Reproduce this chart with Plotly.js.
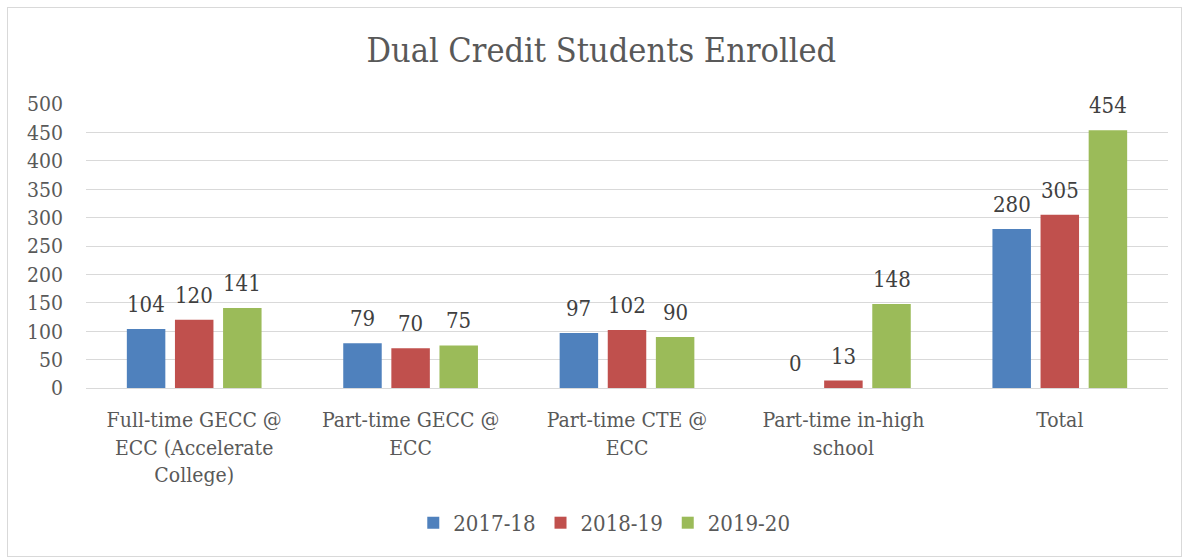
<!DOCTYPE html>
<html><head><meta charset="utf-8">
<script src="https://cdn.plot.ly/plotly-3.0.1.min.js"></script>
<style>
html,body{margin:0;padding:0;background:#fff;}
#wrap{position:relative;width:1186px;height:560px;}
#chart{width:1186px;height:560px;}
#frame{position:absolute;left:7px;top:7px;width:1173px;height:548px;border:1px solid #d9d9d9;pointer-events:none;}
</style></head>
<body><div id="wrap"><div id="chart"></div><div id="frame"></div></div>
<script>
const categories = ["Full-time GECC @<br>ECC (Accelerate<br>College)", "Part-time GECC @<br>ECC", "Part-time CTE @<br>ECC", "Part-time in-high<br>school", "Total"];
const seriesNames = ["2017-18", "2018-19", "2019-20"];
const v2017 = [104, 79, 97, 0, 280];
const v2018 = [120, 70, 102, 13, 305];
const v2019 = [141, 75, 90, 148, 454];
const colors = ["#4f81bd", "#c0504d", "#9bbb59"];
const FONT = "'DejaVu Serif Condensed', 'DejaVu Serif', serif";
const vals = [v2017, v2018, v2019];
const traces = vals.map((v, i) => ({
  type: 'bar', name: seriesNames[i], x: categories, y: v,
  marker: {color: colors[i]}
}));
// data labels as annotations anchored to each bar's value
const annotations = [];
vals.forEach((v, i) => {
  v.forEach((val, j) => {
    annotations.push({
      x: categories[j], y: val, xref: 'x', yref: 'y',
      text: String(val), showarrow: false,
      xanchor: 'center', yanchor: 'bottom',
      xshift: (i - 1) * 48.1, yshift: 10,
      font: {family: FONT, size: 22, color: '#404040'}
    });
  });
});
const layout = {
  width: 1186, height: 560,
  margin: {l: 86, r: 18, t: 104, b: 172},
  paper_bgcolor: '#fff', plot_bgcolor: '#fff',
  font: {family: FONT, color: '#595959', size: 21},
  title: {text: 'Dual Credit Students Enrolled', x: 0.507, xref: 'container', xanchor: 'center', y: 0.91, yref: 'container', yanchor: 'middle', font: {family: FONT, size: 34, color: '#595959'}},
  barmode: 'group', bargap: 0.333, bargroupgap: 0.2,
  xaxis: {showgrid: false, showline: true, linecolor: '#d9d9d9', linewidth: 1, ticks: '', tickfont: {size: 21, color: '#595959'}, ticklabelstandoff: 13},
  yaxis: {range: [0, 500], dtick: 50, showgrid: true, gridcolor: '#d9d9d9', gridwidth: 1, zeroline: false, showline: false, ticks: '', ticklabelstandoff: 22, tickfont: {size: 21, color: '#595959'}},
  legend: {orientation: 'h', x: 0.479, xanchor: 'center', y: -0.475, yanchor: 'middle', font: {size: 22, color: '#595959'}, itemwidth: 30, traceorder: 'normal'},
  annotations: annotations,
  showlegend: true
};
Plotly.newPlot('chart', traces, layout, {staticPlot: true, displayModeBar: false});
</script></body></html>
